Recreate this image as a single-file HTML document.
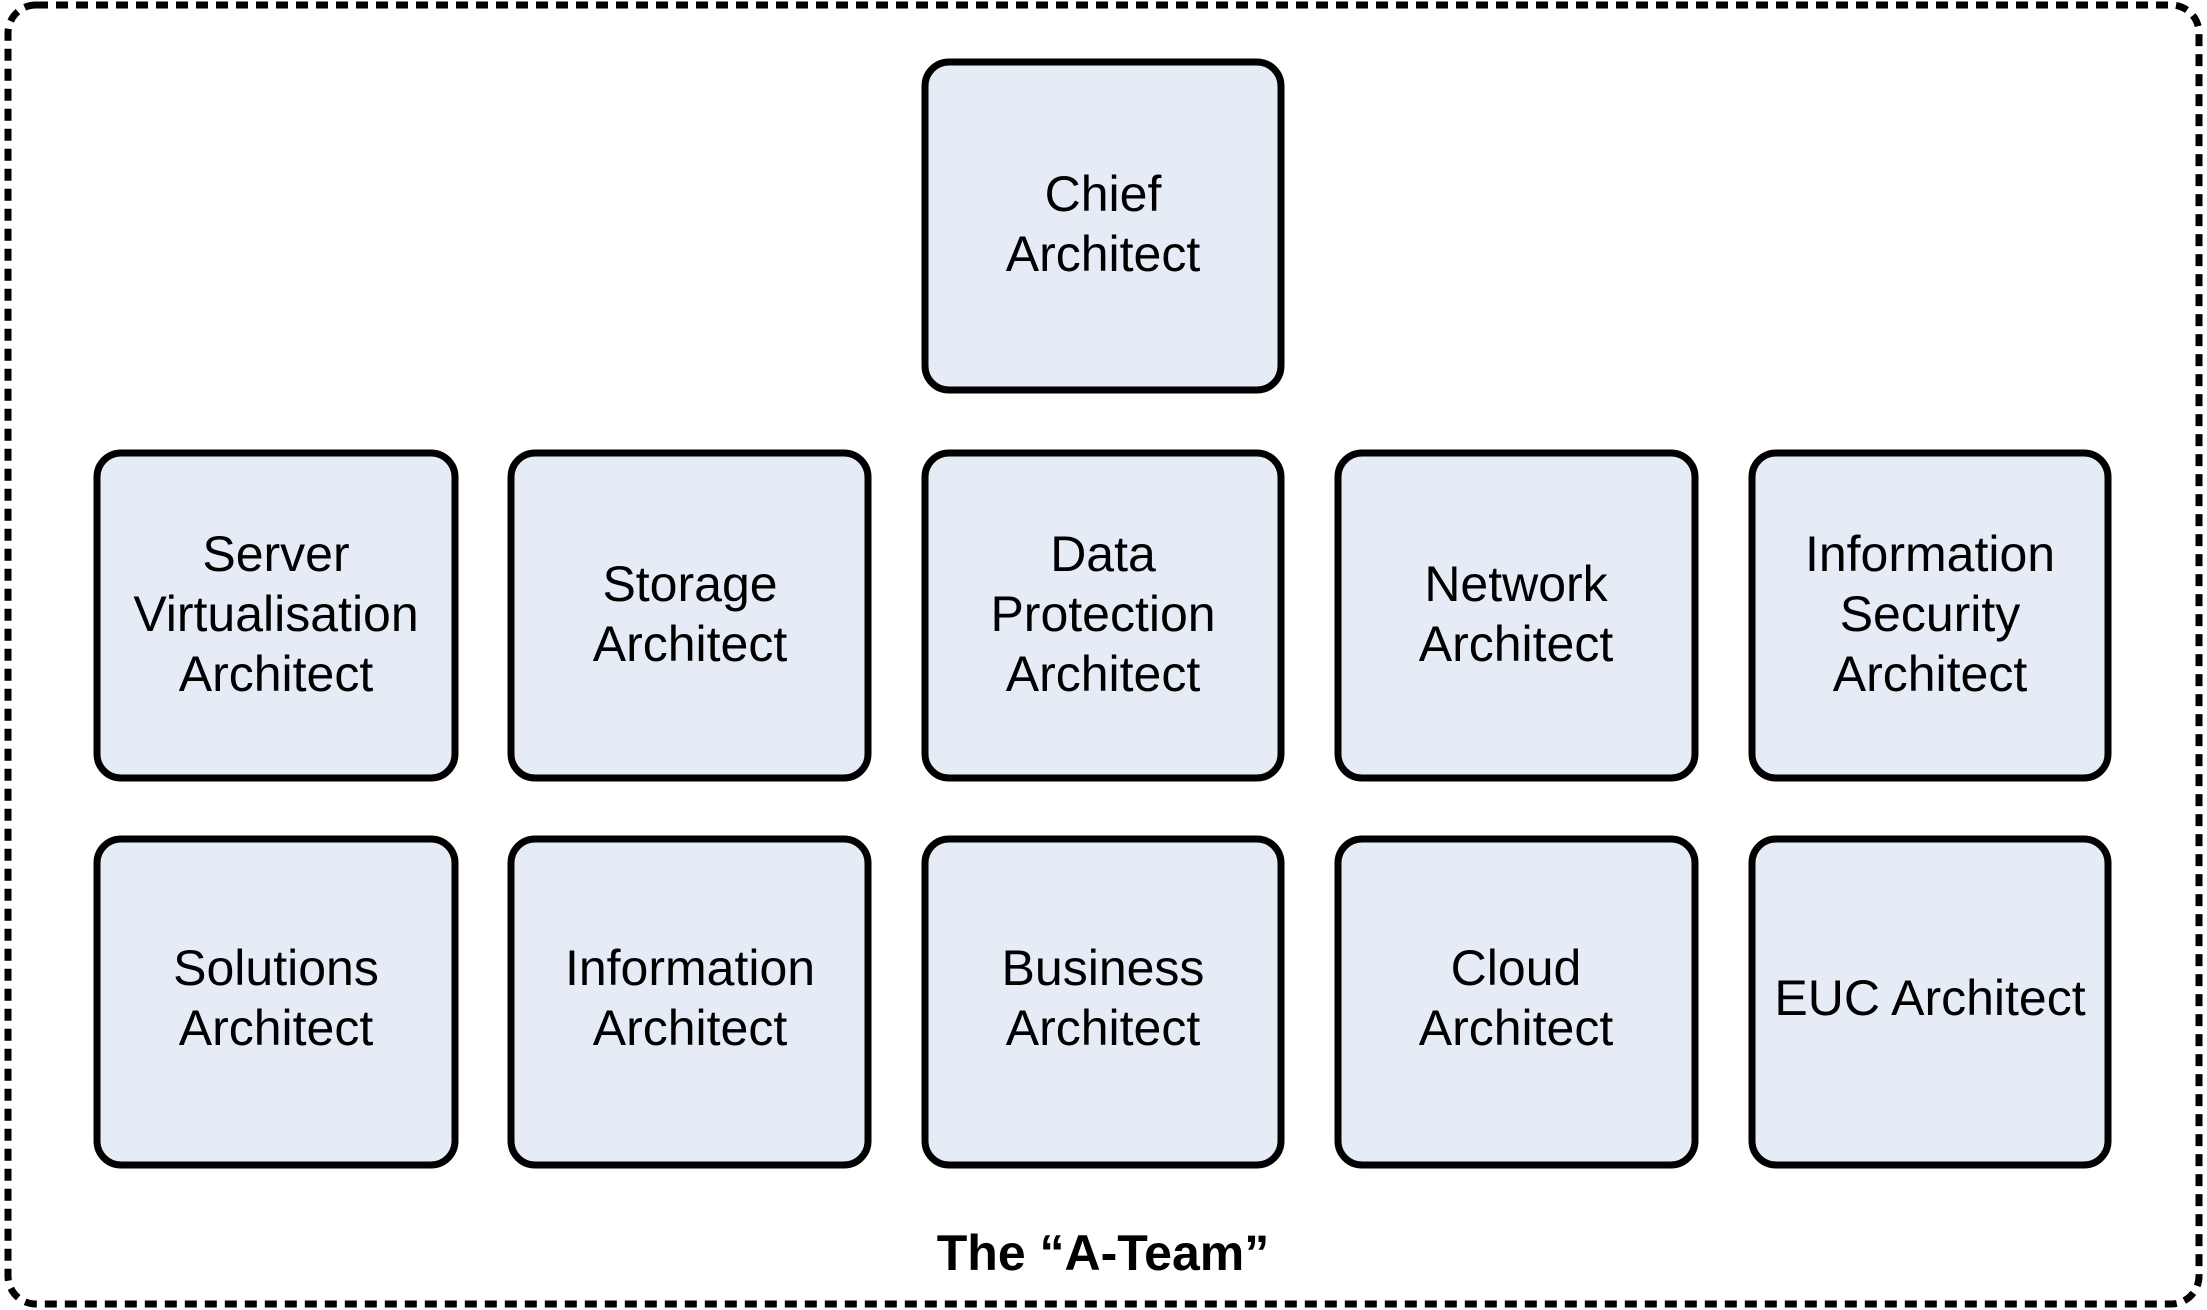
<!DOCTYPE html>
<html><head><meta charset="utf-8"><style>
html,body{margin:0;padding:0;background:#fff;}
svg{display:block;}
text{font-family:"Liberation Sans",Arial,sans-serif;fill:#000;}
</style></head><body>
<svg width="2207" height="1310" viewBox="0 0 2207 1310" xmlns="http://www.w3.org/2000/svg">
<rect x="8" y="5" width="2191" height="1299" rx="28" ry="28" fill="none" stroke="#000" stroke-width="7" stroke-dasharray="12,8"/>
<g fill="#e6ecf6" stroke="#000" stroke-width="7">
<rect x="925" y="62" width="356" height="328" rx="24"/>
<rect x="97" y="453" width="358" height="325" rx="24"/>
<rect x="511" y="453" width="357" height="325" rx="24"/>
<rect x="925" y="453" width="356" height="325" rx="24"/>
<rect x="1338" y="453" width="357" height="325" rx="24"/>
<rect x="1752" y="453" width="356" height="325" rx="24"/>
<rect x="97" y="839" width="358" height="326" rx="24"/>
<rect x="511" y="839" width="357" height="326" rx="24"/>
<rect x="925" y="839" width="356" height="326" rx="24"/>
<rect x="1338" y="839" width="357" height="326" rx="24"/>
<rect x="1752" y="839" width="356" height="326" rx="24"/>
</g>
<g font-size="50" text-anchor="middle">
<text x="1103" y="211">Chief</text><text x="1103" y="271">Architect</text>
<text x="276" y="571">Server</text><text x="276" y="631">Virtualisation</text><text x="276" y="691">Architect</text>
<text x="690" y="601">Storage</text><text x="690" y="661">Architect</text>
<text x="1103" y="571">Data</text><text x="1103" y="631">Protection</text><text x="1103" y="691">Architect</text>
<text x="1516" y="601">Network</text><text x="1516" y="661">Architect</text>
<text x="1930" y="571">Information</text><text x="1930" y="631">Security</text><text x="1930" y="691">Architect</text>
<text x="276" y="985">Solutions</text><text x="276" y="1045">Architect</text>
<text x="690" y="985">Information</text><text x="690" y="1045">Architect</text>
<text x="1103" y="985">Business</text><text x="1103" y="1045">Architect</text>
<text x="1516" y="985">Cloud</text><text x="1516" y="1045">Architect</text>
<text x="1930" y="1015">EUC Architect</text>
</g>
<text x="1103" y="1270" font-size="50" font-weight="bold" text-anchor="middle">The “A-Team”</text>
</svg>
</body></html>
